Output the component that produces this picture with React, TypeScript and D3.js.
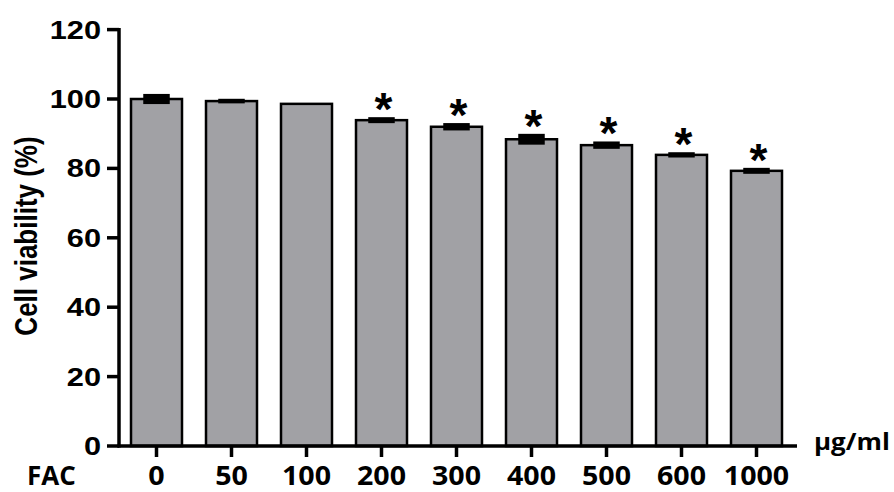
import React from "react";
import * as d3 from "d3";

const categories = ["0", "50", "100", "200", "300", "400", "500", "600", "1000"];
const viability = [100.0, 99.4, 98.6, 93.9, 92.0, 88.4, 86.7, 83.9, 79.3];
const sem = [1.1, 0.3, 0.0, 0.5, 0.7, 1.2, 0.7, 0.4, 0.5];
const significant = [false, false, false, true, true, true, true, true, true];
const yTicks = [0, 20, 40, 60, 80, 100, 120];
const yTitle = "Cell viability (%)";
const xGroupLabel = "FAC";
const unitLabel = "μg/ml";

const W = 894;
const H = 492;
const X0 = 119;
const X1 = 794;
const Y0 = 446;
const Y1 = 29.6;
const STRETCH = 1.23;

export default function App() {
  const x = d3
    .scaleBand<string>()
    .domain(categories)
    .range([X0, X1])
    .paddingInner(0.32)
    .paddingOuter(0.16);
  const y = d3.scaleLinear().domain([0, 120]).range([Y0, Y1]);
  const bw = x.bandwidth();
  const capW = 24;
  const arial = "'Liberation Sans', Arial, sans-serif";
  const calib = "'Open Sans', Lato, sans-serif";
  const starSize = 46;

  return (
    <svg
      width={W}
      height={H}
      viewBox={`0 0 ${W} ${H}`}
      style={{ position: "absolute", left: 0, top: 0, background: "#fff" }}
    >
      {/* bars */}
      {categories.map((c, i) => {
        const cx = (x(c) as number) + bw / 2;
        const v = viability[i];
        const e = sem[i];
        return (
          <g key={c}>
            <rect
              x={x(c)}
              y={y(v)}
              width={bw}
              height={y(0) - y(v)}
              fill="#a1a1a5"
              stroke="#000"
              strokeWidth={2.5}
            />
            {e > 0 && (
              <rect
                x={cx - capW / 2}
                y={y(v + e)}
                width={capW}
                height={Math.max(0.5, y(v - e) - y(v + e))}
                fill="#000"
                stroke="#000"
                strokeWidth={2.5}
              />
            )}
            {significant[i] && (
              <text
                x={cx + 2}
                y={y(v + e) - 20 + starSize * 0.58}
                textAnchor="middle"
                fontFamily={arial}
                fontWeight="bold"
                fontSize={starSize}
                fill="#000"
              >
                *
              </text>
            )}
          </g>
        );
      })}

      {/* y axis */}
      <line x1={X0} x2={X0} y1={y(120) - 1.5} y2={Y0 + 1.5} stroke="#000" strokeWidth={3.5} />
      {yTicks.map((t) => (
        <g key={t}>
          <line x1={X0 - 12} x2={X0} y1={y(t)} y2={y(t)} stroke="#000" strokeWidth={3.5} />
          <text
            transform={`translate(101, ${y(t)}) scale(${STRETCH},1)`}
            textAnchor="end"
            dy="0.36em"
            fontFamily={arial}
            fontWeight="bold"
            fontSize={25}
            fill="#000"
          >
            {t}
          </text>
        </g>
      ))}
      <text
        transform={`translate(37, 236) scale(${STRETCH},1) rotate(-90)`}
        textAnchor="middle"
        fontFamily={arial}
        fontWeight="bold"
        fontSize={26}
        fill="#000"
      >
        {yTitle}
      </text>

      {/* x axis */}
      <line x1={X0 - 1.5} x2={797} y1={Y0} y2={Y0} stroke="#000" strokeWidth={3.5} />
      {categories.map((c) => {
        const cx = (x(c) as number) + bw / 2;
        return (
          <g key={c}>
            <line x1={cx} x2={cx} y1={Y0} y2={Y0 + 11} stroke="#000" strokeWidth={3.5} />
            <text
              transform={`translate(${cx}, 485) scale(1.1,1)`}
              textAnchor="middle"
              fontFamily={calib}
              fontWeight="bold"
              fontSize={26}
              fill="#000"
            >
              {c}
            </text>
          </g>
        );
      })}
      <text x={27} y={485} fontFamily={calib} fontWeight="bold" fontSize={26} fill="#000">
        {xGroupLabel}
      </text>
      <text
        transform={`translate(814, 450) scale(1.08,1)`}
        fontFamily={calib}
        fontWeight="bold"
        fontSize={24}
        fill="#000"
      >
        {unitLabel}
      </text>
    </svg>
  );
}
